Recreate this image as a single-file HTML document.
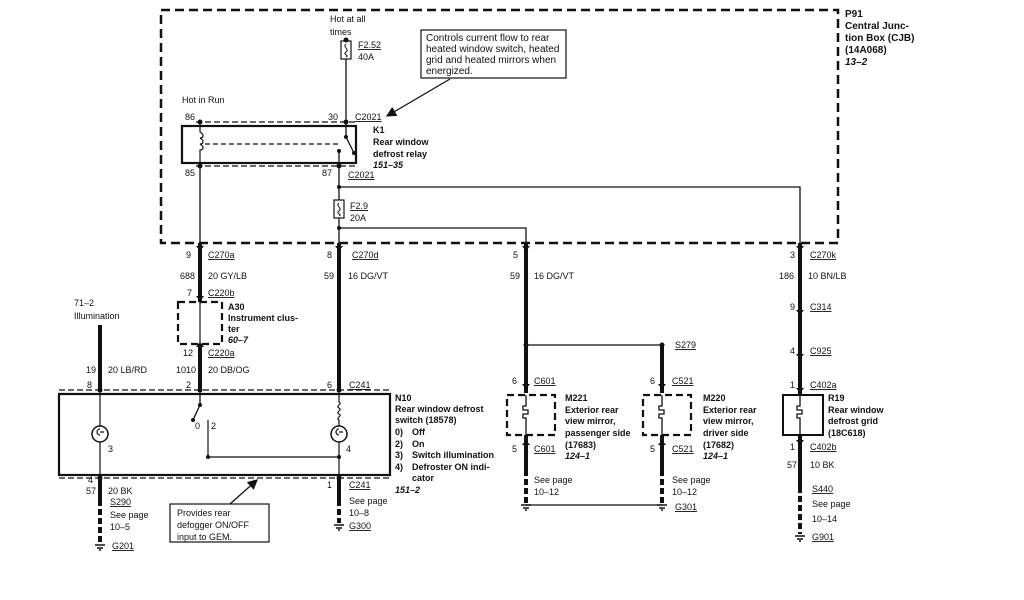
<!DOCTYPE html>
<html><head><style>
body{margin:0;background:#fff}
svg{display:block}
text{font-family:"Liberation Sans",sans-serif;font-size:9px;fill:#111}
.b{font-weight:bold}
.i{font-weight:bold;font-style:italic}
.u{text-decoration:underline}
.c{font-size:10px}
.p{font-size:10px}
</style></head><body>
<svg width="1024" height="600" viewBox="0 0 1024 600" xmlns="http://www.w3.org/2000/svg">
<defs><marker id="ar" markerWidth="8" markerHeight="8" refX="7" refY="4" orient="auto"><path d="M0,0 L8,4 L0,8z" fill="#111"/></marker></defs>
<g fill="none" stroke="#111">
<rect x="161" y="10" width="677" height="233" stroke-width="2.5" stroke-dasharray="9,5"/>
<line x1="346" y1="40" x2="346" y2="122" stroke-width="1.3"/>
<rect x="341" y="41" width="10" height="18" fill="#fff" stroke-width="1.2"/>
<path d="M346,44 c-4,3 4,5 0,8 c-4,3 4,3 0,5" stroke-width="1"/>
<rect x="421" y="30" width="145" height="48" stroke-width="1.2"/>
<line x1="450" y1="79" x2="387" y2="116" stroke-width="1.3" marker-end="url(#ar)"/>
<line x1="196" y1="122" x2="356" y2="122" stroke-width="1.3" stroke-dasharray="6,3"/>
<line x1="196" y1="166" x2="356" y2="166" stroke-width="1.3" stroke-dasharray="6,3"/>
<rect x="182" y="126" width="174" height="37" stroke-width="2.2"/>
<path d="M200,122 V132 c4,2 4,6 0,6 c4,2 4,6 0,6 c4,2 4,6 0,6 V163" stroke-width="1.2"/>
<line x1="205" y1="144" x2="340" y2="144" stroke-width="1.2" stroke-dasharray="5,3"/>
<path d="M346,122 V137 L354,153" stroke-width="1.3"/>
<line x1="339" y1="151" x2="339" y2="166" stroke-width="1.3"/>
<line x1="200" y1="166" x2="200" y2="243" stroke-width="1.3"/>
<line x1="339" y1="166" x2="339" y2="243" stroke-width="1.3"/>
<path d="M339,187 H800 V243" stroke-width="1.3"/>
<path d="M339,228 H526 V243" stroke-width="1.3"/>
<rect x="334" y="200" width="10" height="18" fill="#fff" stroke-width="1.2"/>
<path d="M339,203 c-4,3 4,5 0,8 c-4,3 4,3 0,5" stroke-width="1"/>
<line x1="200" y1="243" x2="200" y2="302" stroke-width="4"/>
<line x1="200" y1="344" x2="200" y2="392" stroke-width="4"/>
<line x1="339" y1="243" x2="339" y2="392" stroke-width="4"/>
<line x1="526" y1="243" x2="526" y2="393" stroke-width="4"/>
<line x1="800" y1="243" x2="800" y2="395" stroke-width="4"/>
<line x1="100" y1="325" x2="100" y2="392" stroke-width="4"/>
<rect x="178" y="302" width="44" height="42" stroke-width="2.2" stroke-dasharray="7,4"/>
<line x1="200" y1="302" x2="200" y2="344" stroke-width="1.2"/>
<line x1="59" y1="390" x2="390" y2="390" stroke-width="1.3" stroke-dasharray="6,3"/>
<line x1="59" y1="478" x2="390" y2="478" stroke-width="1.3" stroke-dasharray="6,3"/>
<rect x="59" y="394" width="331" height="81" stroke-width="2.2"/>
<line x1="100" y1="390" x2="100" y2="478" stroke-width="1.2"/>
<circle cx="100" cy="434" r="8" fill="#fff" stroke-width="1.5"/>
<path d="M100,429 a3,3 0 1 0 0,6 M100,432 h4" stroke-width="1.2"/>
<path d="M200,390 V405 L193,420" stroke-width="1.3"/>
<path d="M208,420 V457 H339" stroke-width="1.2"/>
<path d="M339,390 V402 c4,2 -4,4 0,6 c4,2 -4,4 0,6 c4,2 -4,4 0,6 V478" stroke-width="1.2"/>
<circle cx="339" cy="434" r="8" fill="#fff" stroke-width="1.5"/>
<path d="M339,429 a3,3 0 1 0 0,6 M339,432 h4" stroke-width="1.2"/>
<line x1="100" y1="478" x2="100" y2="500" stroke-width="4"/>
<line x1="100" y1="500" x2="100" y2="543" stroke-width="4" stroke-dasharray="6,3"/>
<line x1="339" y1="478" x2="339" y2="500" stroke-width="4"/>
<line x1="339" y1="500" x2="339" y2="523" stroke-width="4" stroke-dasharray="6,3"/>
<path d="M95,545 h10 M97,548 h6 M99,550 h2 M334,525 h10 M336,528 h6 M338,530 h2" stroke-width="1.5"/>
<rect x="170" y="504" width="99" height="38" stroke-width="1.2"/>
<line x1="230" y1="504" x2="257" y2="480" stroke-width="1.3" marker-end="url(#ar)"/>
<path d="M526,345 H662" stroke-width="1.2"/>
<line x1="662" y1="345" x2="662" y2="393" stroke-width="4"/>
<rect x="507" y="395" width="48" height="40" stroke-width="2.2" stroke-dasharray="7,4"/>
<rect x="643" y="395" width="48" height="40" stroke-width="2.2" stroke-dasharray="7,4"/>
<path d="M526,395 V406 h-3 v4 h5 v4 h-5 v4 h3 V435" stroke-width="1.3"/>
<path d="M662,395 V406 h-3 v4 h5 v4 h-5 v4 h3 V435" stroke-width="1.3"/>
<line x1="526" y1="435" x2="526" y2="470" stroke-width="4"/>
<line x1="526" y1="470" x2="526" y2="503" stroke-width="4" stroke-dasharray="6,3"/>
<line x1="662" y1="435" x2="662" y2="470" stroke-width="4"/>
<line x1="662" y1="470" x2="662" y2="503" stroke-width="4" stroke-dasharray="6,3"/>
<path d="M526,505 H662" stroke-width="1.2"/>
<path d="M521,505 h10 M523,508 h6 M525,510 h2 M657,505 h10 M659,508 h6 M661,510 h2" stroke-width="1.5"/>
<rect x="783" y="395" width="40" height="40" stroke-width="2"/>
<path d="M800,395 V406 h-3 v4 h5 v4 h-5 v4 h3 V435" stroke-width="1.3"/>
<line x1="800" y1="435" x2="800" y2="487" stroke-width="4"/>
<line x1="800" y1="487" x2="800" y2="534" stroke-width="4" stroke-dasharray="6,3"/>
<path d="M795,536 h10 M797,539 h6 M799,541 h2" stroke-width="1.5"/>
</g>
<g fill="#111">
<circle cx="346" cy="40" r="2.5"/><circle cx="200" cy="122" r="2.5"/><circle cx="346" cy="122" r="2.5"/>
<circle cx="200" cy="166" r="2.5"/><circle cx="339" cy="166" r="2.5"/><circle cx="339" cy="187" r="2"/><circle cx="339" cy="228" r="2"/>
<circle cx="339" cy="151" r="2"/><circle cx="346" cy="137" r="2"/><circle cx="354" cy="153" r="2"/>
<circle cx="526" cy="345" r="2.5"/><circle cx="662" cy="345" r="2.5"/>
<circle cx="100" cy="390" r="2.5"/><circle cx="200" cy="390" r="2.5"/><circle cx="339" cy="390" r="2.5"/>
<circle cx="100" cy="478" r="2.5"/><circle cx="339" cy="478" r="2.5"/><circle cx="208" cy="457" r="2"/><circle cx="339" cy="457" r="2"/>
<circle cx="193" cy="420" r="2"/><circle cx="200" cy="405" r="2"/>
<path d="M196,246 h8 l-4,5z M335,246 h8 l-4,5z M522,246 h8 l-4,5z M796,246 h8 l-4,5z M196,296 h8 l-4,5z M796,310 h8 l-4,5z M796,354 h8 l-4,5z M796,388 h8 l-4,5z M522,384 h8 l-4,5z M658,384 h8 l-4,5z M196,347 h8 l-4,-5z M522,445 h8 l-4,-5z M658,445 h8 l-4,-5z M796,440 h8 l-4,5z"/>
</g>
<text x="330" y="22">Hot at all</text><text x="330" y="35">times</text>
<text x="358" y="48" class="u">F2.52</text><text x="358" y="60">40A</text>
<text x="426" y="41" class="c">Controls current flow to rear</text>
<text x="426" y="52" class="c">heated window switch, heated</text>
<text x="426" y="63" class="c">grid and heated mirrors when</text>
<text x="426" y="74" class="c">energized.</text>
<text x="845" y="17" class="b p">P91</text>
<text x="845" y="29" class="b p">Central Junc-</text>
<text x="845" y="41" class="b p">tion Box (CJB)</text>
<text x="845" y="53" class="b p">(14A068)</text>
<text x="845" y="65" class="i p">13–2</text>
<text x="182" y="103">Hot in Run</text>
<text x="185" y="120">86</text><text x="328" y="120">30</text><text x="355" y="120" class="u">C2021</text>
<text x="373" y="133" class="b">K1</text><text x="373" y="145" class="b">Rear window</text><text x="373" y="157" class="b">defrost relay</text><text x="373" y="168" class="i">151–35</text>
<text x="185" y="176">85</text><text x="322" y="176">87</text><text x="348" y="178" class="u">C2021</text>
<text x="350" y="209" class="u">F2.9</text><text x="350" y="221">20A</text>
<text x="186" y="258">9</text><text x="208" y="258" class="u">C270a</text>
<text x="327" y="258">8</text><text x="352" y="258" class="u">C270d</text>
<text x="513" y="258">5</text><text x="790" y="258">3</text><text x="810" y="258" class="u">C270k</text>
<text x="180" y="279">688</text><text x="208" y="279">20 GY/LB</text>
<text x="324" y="279">59</text><text x="348" y="279">16 DG/VT</text>
<text x="510" y="279">59</text><text x="534" y="279">16 DG/VT</text>
<text x="779" y="279">186</text><text x="808" y="279">10 BN/LB</text>
<text x="187" y="296">7</text><text x="208" y="296" class="u">C220b</text>
<text x="74" y="306">71–2</text><text x="74" y="319">Illumination</text>
<text x="228" y="310" class="b">A30</text><text x="228" y="321" class="b">Instrument clus-</text><text x="228" y="332" class="b">ter</text><text x="228" y="343" class="i">60–7</text>
<text x="790" y="310">9</text><text x="810" y="310" class="u">C314</text>
<text x="183" y="356">12</text><text x="208" y="356" class="u">C220a</text>
<text x="675" y="348" class="u">S279</text>
<text x="790" y="354">4</text><text x="810" y="354" class="u">C925</text>
<text x="86" y="373">19</text><text x="108" y="373">20 LB/RD</text><text x="176" y="373">1010</text><text x="208" y="373">20 DB/OG</text>
<text x="87" y="388">8</text><text x="186" y="388">2</text><text x="327" y="388">6</text><text x="349" y="388" class="u">C241</text>
<text x="512" y="384">6</text><text x="534" y="384" class="u">C601</text>
<text x="650" y="384">6</text><text x="672" y="384" class="u">C521</text>
<text x="790" y="388">1</text><text x="810" y="388" class="u">C402a</text>
<text x="395" y="401" class="b">N10</text><text x="395" y="412" class="b">Rear window defrost</text><text x="395" y="423" class="b">switch (18578)</text>
<text x="395" y="435" class="b">0)</text><text x="412" y="435" class="b">Off</text>
<text x="395" y="447" class="b">2)</text><text x="412" y="447" class="b">On</text>
<text x="395" y="458" class="b">3)</text><text x="412" y="458" class="b">Switch illumination</text>
<text x="395" y="470" class="b">4)</text><text x="412" y="470" class="b">Defroster ON indi-</text>
<text x="412" y="481" class="b">cator</text><text x="395" y="493" class="i">151–2</text>
<text x="565" y="401" class="b">M221</text><text x="565" y="413" class="b">Exterior rear</text><text x="565" y="424" class="b">view mirror,</text><text x="565" y="436" class="b">passenger side</text><text x="565" y="448" class="b">(17683)</text><text x="565" y="459" class="i">124–1</text>
<text x="703" y="401" class="b">M220</text><text x="703" y="413" class="b">Exterior rear</text><text x="703" y="424" class="b">view mirror,</text><text x="703" y="436" class="b">driver side</text><text x="703" y="448" class="b">(17682)</text><text x="703" y="459" class="i">124–1</text>
<text x="828" y="401" class="b">R19</text><text x="828" y="413" class="b">Rear window</text><text x="828" y="424" class="b">defrost grid</text><text x="828" y="436" class="b">(18C618)</text>
<text x="195" y="429">0</text><text x="211" y="429">2</text><text x="108" y="452">3</text><text x="346" y="452">4</text>
<text x="512" y="452">5</text><text x="534" y="452" class="u">C601</text>
<text x="650" y="452">5</text><text x="672" y="452" class="u">C521</text>
<text x="790" y="450">1</text><text x="810" y="450" class="u">C402b</text>
<text x="787" y="468">57</text><text x="810" y="468">10 BK</text>
<text x="88" y="483">4</text><text x="86" y="494">57</text><text x="108" y="494">20 BK</text>
<text x="327" y="488">1</text><text x="349" y="488" class="u">C241</text>
<text x="534" y="483">See page</text><text x="534" y="495">10–12</text>
<text x="672" y="483">See page</text><text x="672" y="495">10–12</text>
<text x="675" y="510" class="u">G301</text>
<text x="110" y="505" class="u">S290</text><text x="110" y="518">See page</text><text x="110" y="530">10–5</text>
<text x="112" y="549" class="u">G201</text>
<text x="349" y="504">See page</text><text x="349" y="516">10–8</text><text x="349" y="529" class="u">G300</text>
<text x="177" y="516">Provides rear</text><text x="177" y="528">defogger ON/OFF</text><text x="177" y="540">input to GEM.</text>
<text x="812" y="492" class="u">S440</text><text x="812" y="507">See page</text><text x="812" y="522">10–14</text><text x="812" y="540" class="u">G901</text>
</svg>
</body></html>
